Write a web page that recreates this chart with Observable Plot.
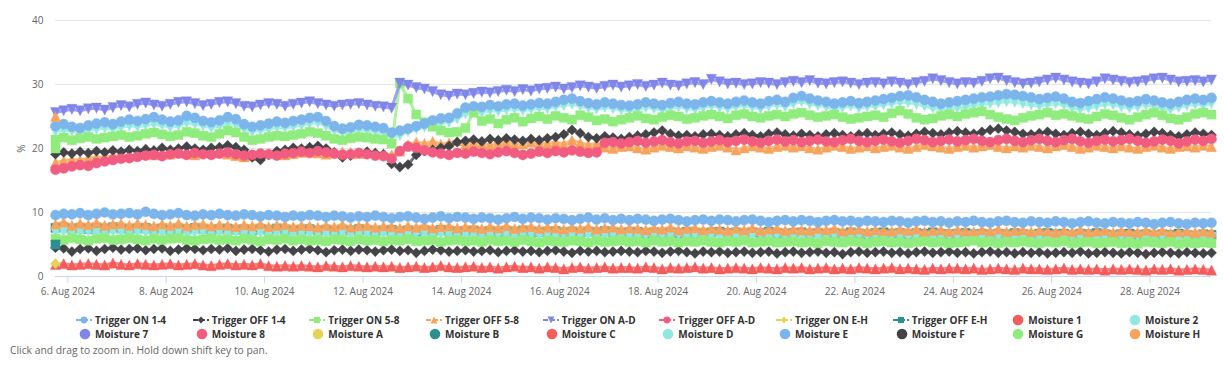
<!DOCTYPE html>
<html><head><meta charset="utf-8">
<script src="https://cdn.jsdelivr.net/npm/d3@7"></script>
<script src="https://cdn.jsdelivr.net/npm/@observablehq/plot@0.6"></script>
<style>
body{margin:0;background:#fff;font-family:"Open Sans",sans-serif;}
#wrap{position:relative;width:1224px;height:372px;overflow:hidden;}
#legend{position:absolute;left:0;top:300px;width:1224px;height:42px;}
.item{position:absolute;font-size:10px;font-weight:bold;color:#333333;line-height:12px;white-space:nowrap;}
.item svg{position:absolute;left:-20px;top:-1px;}
#caption{position:absolute;left:10px;top:344px;font-size:10.3px;color:#666666;line-height:13px;}
#chart svg{display:block;}
</style></head>
<body>
<div id="wrap">
  <div id="chart"></div>
  <div id="legend"></div>
  <div id="caption">Click and drag to zoom in. Hold down shift key to pan.</div>
</div>
<script>
// ---- data: 4-hourly readings starting 5 Aug 2024 18:00 ----
const startTime = Date.UTC(2024, 7, 5, 18);
const stepHours = 4;

const moisture1 = [1.9,2.0,1.8,1.9,2.0,1.9,1.8,2.1,1.9,1.8, 2.0,1.9,1.8,1.9,2.0,1.8,1.9,2.0,1.8,1.7, 1.9,2.0,1.8,1.9,1.8,2.0,1.7,1.6,1.7,1.6, 1.7,1.6,1.5,1.7,1.6,1.5,1.7,1.6,1.5,1.6, 1.5,1.6,1.4,1.5,1.6,1.4,1.5,1.7,1.5,1.4, 1.5,1.6,1.4,1.5,1.3,1.5,1.6,1.4,1.5,1.3, 1.5,1.4,1.2,1.4,1.5,1.3,1.4,1.5,1.3,1.4, 1.4,1.3,1.5,1.4,1.2,1.4,1.3,1.4,1.5,1.3, 1.4,1.2,1.3,1.4,1.3,1.2,1.4,1.3,1.2,1.4, 1.3,1.4,1.2,1.3,1.4,1.2,1.3,1.2,1.4,1.3, 1.2,1.3,1.4,1.2,1.3,1.2,1.1,1.3,1.2,1.3, 1.3,1.2,1.3,1.1,1.2,1.3,1.2,1.1,1.3,1.2, 1.2,1.1,1.2,1.3,1.1,1.2,1.1,1.2,1.0,1.2, 1.1,1.2,1.1,1.0,1.2,1.1,1.2,1.0,1.1,1.2, 1.1,1.0];
const moisture2 = [6.9,7.0,6.8,6.9,7.0,6.8,6.9,7.0,6.9,6.8, 6.9,6.8,6.9,6.7,6.8,6.9,6.7,6.8,6.9,6.7, 6.8,6.7,6.8,6.6,6.7,6.8,6.6,6.7,6.8,6.6, 6.7,6.6,6.7,6.5,6.6,6.7,6.5,6.6,6.7,6.5, 6.6,6.5,6.6,6.5,6.6,6.7,6.5,6.6,6.5,6.4, 6.5,6.6,6.5,6.4,6.5,6.6,6.4,6.5,6.6,6.4, 6.5,6.4,6.5,6.3,6.4,6.5,6.3,6.4,6.5,6.3, 6.4,6.3,6.4,6.5,6.3,6.4,6.5,6.3,6.4,6.3, 6.4,6.3,6.4,6.2,6.3,6.4,6.5,6.3,6.4,6.3, 6.3,6.4,6.3,6.2,6.3,6.4,6.2,6.3,6.4,6.2, 6.3,6.2,6.3,6.4,6.2,6.3,6.2,6.1,6.3,6.2, 6.3,6.2,6.3,6.1,6.2,6.3,6.2,6.1,6.2,6.3, 6.2,6.1,6.2,6.3,6.1,6.2,6.1,6.0,6.2,6.1, 6.2,6.1,6.2,6.0,6.1,6.2,6.1,6.0,6.1,6.2, 6.1,6.1];
const moisture3 = [9.6,9.8,9.7,9.9,9.6,9.8,10.0,9.7,9.8,9.9, 9.7,10.1,9.8,9.6,9.7,9.9,9.6,9.5,9.7,9.6, 9.8,9.6,9.5,9.7,9.6,9.4,9.6,9.5,9.3,9.5, 9.4,9.6,9.5,9.3,9.5,9.4,9.2,9.4,9.3,9.5, 9.3,9.1,9.3,9.4,9.2,9.0,9.2,9.4,9.1,9.3, 9.2,9.0,9.2,9.1,8.9,9.1,9.3,9.0,9.2,9.1, 8.9,9.1,9.0,8.8,9.0,9.2,8.9,9.1,8.8,9.0, 8.8,9.0,8.9,8.7,8.9,9.0,8.8,8.6,8.8,8.9, 8.7,8.9,8.8,8.6,8.8,8.9,8.7,8.5,8.7,8.8, 8.6,8.8,8.7,8.5,8.7,8.8,8.6,8.7,8.5,8.7, 8.6,8.5,8.7,8.6,8.4,8.6,8.7,8.5,8.6,8.4, 8.6,8.5,8.7,8.5,8.4,8.6,8.7,8.5,8.4,8.6, 8.5,8.4,8.6,8.5,8.3,8.5,8.6,8.4,8.3,8.5, 8.4,8.3,8.5,8.4,8.2,8.4,8.5,8.3,8.2,8.4, 8.3,8.4];
const moisture4 = [4.5,4.4,3.9,4.3,4.4,4.0,4.3,4.5,4.2,4.3, 4.4,4.1,4.3,4.4,4.0,4.2,4.4,4.3,4.1,4.3, 4.2,4.4,4.0,4.2,4.3,4.1,3.9,4.2,4.3,4.0, 4.2,4.3,4.1,3.8,4.1,4.2,4.0,4.2,4.1,3.9, 4.1,4.2,4.0,4.1,3.7,4.0,4.2,4.1,3.9,4.0, 4.1,3.9,4.0,4.1,3.8,4.0,4.1,3.9,4.0,3.8, 4.0,4.1,3.9,3.7,4.0,3.9,4.0,3.8,3.9,4.0, 3.9,3.8,4.0,3.9,3.7,3.9,4.0,3.8,3.6,3.9, 3.8,3.9,3.7,3.8,3.9,3.7,3.8,3.9,3.6,3.8, 3.9,3.7,3.8,3.9,3.7,3.8,3.5,3.8,3.9,3.7, 3.8,3.9,3.7,3.8,3.6,3.8,3.9,3.7,3.8,3.9, 3.7,3.8,3.6,3.8,3.9,3.7,3.8,3.6,3.8,3.7, 3.8,3.6,3.7,3.8,3.7,3.9,3.6,3.7,3.8,3.7, 3.6,3.8,3.7,3.5,3.7,3.8,3.7,3.6,3.8,3.7, 3.6,3.7];
const moisture5 = [5.9,5.7,6.0,5.8,5.6,5.9,6.0,5.7,5.8,6.0, 5.8,5.6,5.9,5.7,5.9,6.0,5.7,5.6,5.8,5.9, 5.7,5.8,5.6,5.9,5.7,5.5,5.8,5.7,5.9,5.6, 5.8,5.6,5.7,5.5,5.8,5.7,5.5,5.8,5.6,5.7, 5.5,5.7,5.6,5.8,5.5,5.6,5.7,5.4,5.6,5.7, 5.5,5.6,5.4,5.7,5.5,5.6,5.4,5.7,5.5,5.3, 5.6,5.5,5.4,5.6,5.5,5.3,5.6,5.4,5.5,5.6, 5.4,5.5,5.3,5.6,5.4,5.5,5.3,5.5,5.4,5.6, 5.4,5.3,5.5,5.4,5.6,5.3,5.4,5.5,5.3,5.4, 5.5,5.3,5.4,5.2,5.5,5.4,5.3,5.5,5.4,5.2, 5.4,5.5,5.3,5.4,5.2,5.4,5.5,5.3,5.4,5.2, 5.3,5.4,5.6,5.3,5.4,5.2,5.4,5.3,5.5,5.3, 5.2,5.4,5.3,5.5,5.2,5.3,5.4,5.2,5.3,5.4, 5.2,5.3,5.1,5.4,5.3,5.2,5.4,5.1,5.3,5.2, 5.3,5.2];
const moisture6 = [8.2,8.5,8.0,8.3,8.1,8.4,8.0,8.2,8.3,8.0, 8.3,8.1,7.9,8.2,8.0,8.3,7.9,8.1,8.2,7.9, 8.1,8.0,7.8,8.1,7.9,8.2,7.8,8.0,8.1,7.8, 8.0,7.9,7.7,8.0,7.8,8.1,7.7,7.9,8.0,7.7, 7.9,7.8,7.6,7.9,7.7,8.0,7.6,7.8,7.9,7.6, 7.8,7.7,7.5,7.8,7.6,7.9,7.5,7.7,7.8,7.5, 7.7,7.6,7.4,7.7,7.5,7.8,7.4,7.6,7.7,7.4, 7.6,7.5,7.3,7.6,7.4,7.7,7.3,7.5,7.6,7.3, 7.5,7.4,7.2,7.5,7.3,7.6,7.2,7.4,7.5,7.2, 7.4,7.3,7.2,7.5,7.3,7.5,7.1,7.3,7.4,7.1, 7.3,7.2,7.1,7.4,7.2,7.4,7.0,7.2,7.3,7.0, 7.3,7.1,7.0,7.3,7.1,7.4,7.0,7.2,7.3,7.0, 7.2,7.1,6.9,7.2,7.0,7.3,6.9,7.1,7.2,6.9, 7.1,7.0,6.9,7.2,7.0,7.2,6.8,7.0,7.1,6.9, 7.1,6.9];
const moisture7 = [25.6,25.9,26.1,25.9,26.2,26.3,26.0,26.4,26.7,26.5, 26.9,27.1,26.8,26.6,26.9,27.2,27.3,27.0,26.7,26.9, 27.2,27.3,27.0,26.6,26.5,26.8,27.0,26.9,26.6,26.9, 27.1,27.3,27.0,26.8,26.6,26.8,26.9,27.0,26.8,26.6, 26.5,26.3,30.2,29.9,29.5,29.3,28.9,28.4,28.2,28.5, 28.4,28.6,28.8,28.7,28.9,29.1,28.9,29.2,29.0,29.3, 29.4,29.6,29.3,29.5,29.8,29.6,29.4,29.7,29.9,29.6, 29.8,30.0,29.7,29.9,30.2,29.9,29.8,30.1,30.3,30.0, 30.8,30.4,30.1,30.2,30.0,30.1,30.3,30.2,30.0,30.3, 30.5,30.3,30.6,30.2,30.1,30.3,30.4,30.2,30.0,30.2, 30.3,30.1,30.4,30.2,30.0,30.3,30.5,30.9,30.6,30.3, 30.1,30.3,30.2,30.5,30.9,31.0,30.6,30.3,30.1,30.2, 30.4,30.7,31.0,30.7,30.4,30.2,30.1,30.4,30.9,30.7, 30.5,30.3,30.4,30.6,30.9,31.0,30.7,30.4,30.5,30.6, 30.4,30.7];
const moisture8 = [16.7,16.9,17.2,17.4,17.3,17.7,18.0,18.2,18.4,18.5, 18.7,18.9,19.0,18.8,19.1,19.2,19.0,19.3,19.1,19.0, 19.2,19.4,19.1,18.9,19.0,19.2,19.1,18.9,19.2,19.3, 19.5,19.3,19.6,19.4,19.2,19.0,19.1,19.3,19.1,18.9, 18.8,18.4,19.6,20.3,20.1,19.7,19.4,19.2,19.0,19.3, 19.2,19.5,19.3,19.1,19.4,19.6,19.3,19.0,19.2,19.5, 19.3,19.6,19.4,19.7,19.5,19.3,19.4,20.9,21.0,20.8, 21.0,21.2,20.9,21.1,21.3,21.0,20.8,21.1,21.2,20.9, 21.1,21.3,21.0,21.2,21.4,21.1,20.9,21.2,21.4,21.1, 21.3,21.0,21.2,21.4,21.1,21.0,21.3,21.5,21.2,21.0, 21.2,21.4,21.1,20.9,21.2,21.5,21.3,21.0,21.2,21.4, 21.1,21.3,21.5,21.2,21.0,21.3,21.5,21.2,21.0,21.3, 21.5,21.2,21.0,21.3,21.5,21.1,20.9,21.2,21.4,21.1, 21.3,21.5,21.2,20.9,21.1,21.4,21.2,20.8,21.1,21.4, 21.2,21.5];
const moistureB = [7.6,7.7,7.5,7.6,7.4,7.6,7.5,7.7,7.5,7.4, 7.5,7.6,7.4,7.5,7.3,7.5,7.4,7.6,7.4,7.3, 7.4,7.5,7.3,7.4,7.2,7.4,7.3,7.5,7.3,7.2, 7.3,7.4,7.2,7.3,7.1,7.3,7.2,7.4,7.2,7.1, 7.2,7.3,7.1,7.2,7.0,7.2,7.1,7.3,7.1,7.0, 7.1,7.2,7.0,7.1,6.9,7.1,7.0,7.2,7.0,6.9, 7.0,7.1,6.9,7.0,6.8,7.0,6.9,7.1,6.9,6.8, 6.9,7.0,6.8,6.9,6.7,6.9,6.8,7.0,6.8,6.7, 6.9,7.0,6.8,6.9,6.7,6.9,6.8,7.0,6.8,6.7, 6.8,6.9,6.7,6.8,6.6,6.8,6.7,6.9,6.7,6.6, 6.8,6.9,6.7,6.8,6.6,6.8,6.7,6.9,6.7,6.6, 6.7,6.8,6.6,6.7,6.5,6.7,6.6,6.8,6.6,6.5, 6.7,6.8,6.6,6.7,6.5,6.7,6.6,6.8,6.6,6.5, 6.6,6.7,6.5,6.6,6.4,6.6,6.5,6.7,6.5,6.4, 6.6,6.5];
const moistureD = [22.6,22.9,22.7,22.5,22.8,23.0,23.2,23.0,23.3,23.5, 23.4,23.6,23.8,23.6,23.3,23.5,24.0,23.8,23.5,23.2, 23.5,23.9,23.7,23.0,22.6,22.8,23.0,23.3,23.2,23.4, 23.6,23.9,24.0,23.5,22.8,22.4,22.6,22.9,22.8,22.6, 22.4,21.8,22.0,22.6,23.0,23.3,23.6,23.9,24.1,24.6, 25.4,25.7,25.6,25.9,25.8,26.0,26.2,25.9,26.1,26.3, 26.2,26.5,26.7,26.9,26.6,26.3,26.1,26.4,26.2,26.0, 25.9,26.1,26.4,26.2,26.0,26.3,26.5,26.2,26.1,26.4, 26.6,26.4,26.2,26.5,26.7,26.4,26.2,26.6,26.8,26.5, 27.0,27.3,26.9,26.7,26.5,26.2,26.4,26.6,26.3,26.5, 26.6,26.8,27.0,27.2,27.2,26.9,26.6,26.3,26.1,26.2, 26.3,26.5,26.7,26.9,27.0,27.1,27.3,27.2,27.0,26.8, 26.6,26.8,27.0,26.8,26.3,26.1,26.3,26.6,26.9,26.8, 26.5,26.3,26.5,26.8,26.6,26.3,26.1,26.4,26.7,26.9, 26.7,27.0];
const moistureE = [23.5,23.8,23.4,23.2,23.6,23.9,24.1,23.8,24.2,24.5, 24.3,24.6,24.9,24.5,24.2,24.4,25.1,24.8,24.3,24.1, 24.4,24.9,24.6,23.8,23.4,23.6,23.9,24.2,24.0,24.3, 24.5,24.8,24.9,24.3,23.5,23.1,23.3,23.7,23.6,23.4, 23.2,22.5,22.8,23.1,23.5,23.9,24.4,24.7,24.8,25.5, 26.4,26.6,26.5,26.8,26.6,26.9,27.0,26.7,26.9,27.1, 27.0,27.3,27.6,27.8,27.4,27.1,26.9,27.2,27.0,26.8, 26.7,26.9,27.2,27.0,26.8,27.1,27.3,27.0,26.9,27.2, 27.4,27.2,27.0,27.3,27.5,27.2,27.0,27.4,27.6,27.3, 27.9,28.2,27.8,27.5,27.3,27.0,27.2,27.4,27.1,27.3, 27.5,27.7,27.9,28.2,28.3,28.0,27.6,27.3,27.0,27.2, 27.4,27.6,27.8,28.0,28.1,28.3,28.5,28.4,28.2,28.0, 27.7,27.9,28.1,27.8,27.3,27.1,27.4,27.7,28.0,27.8, 27.5,27.2,27.4,27.7,27.5,27.2,27.0,27.3,27.6,27.8, 27.6,27.9];
const moistureF = [19.1,19.4,19.2,19.5,19.3,19.6,19.4,19.7,19.5,19.8, 19.6,19.9,19.7,20.1,19.8,20.0,20.3,20.0,19.8,20.1, 20.2,20.5,20.2,19.8,18.6,18.2,19.0,19.6,19.8,20.1, 20.0,20.2,20.4,20.0,19.4,18.6,18.9,19.3,19.5,19.3, 19.1,17.6,17.1,17.5,19.0,19.6,19.8,20.1,20.4,21.0, 21.2,21.4,21.1,21.5,21.3,21.6,21.4,21.2,21.5,21.3, 21.6,21.8,22.2,22.9,22.4,21.8,21.6,21.9,21.7,21.5, 21.8,22.0,22.2,22.5,22.8,22.3,22.0,22.1,21.9,22.2, 22.3,22.1,21.9,22.2,22.4,22.1,21.9,22.3,22.5,22.2, 22.0,22.3,22.1,21.9,22.2,22.4,22.1,21.9,22.2,22.4, 22.1,22.3,22.5,22.2,22.0,22.3,22.6,22.4,22.2,22.5, 22.7,22.5,22.3,22.6,22.9,23.1,22.8,22.6,22.3,22.2, 22.4,22.6,22.3,22.1,22.4,22.6,22.3,22.1,22.4,22.7, 22.5,22.2,22.0,22.3,22.6,22.4,22.1,21.9,22.2,22.5, 22.3,22.1];
const moistureG = [21.4,21.7,21.3,21.6,21.8,21.5,21.7,21.9,22.1,21.8, 22.0,22.3,22.5,22.2,21.9,22.1,22.6,22.4,22.0,21.8, 22.3,22.8,22.5,21.8,21.3,21.5,21.8,22.0,21.9,22.1, 22.3,22.6,22.4,22.0,21.5,21.3,21.6,21.8,21.7,21.5, 21.4,20.8,30.2,27.8,25.3,24.1,23.4,22.8,22.5,22.6, 23.2,25.6,24.3,24.6,23.9,24.5,24.8,24.2,24.7,25.0, 24.6,25.1,24.8,24.5,25.2,24.9,24.4,24.6,24.2,24.5, 24.8,25.1,24.7,24.5,24.9,25.2,25.0,24.6,24.8,25.1, 25.3,25.0,24.7,25.2,25.4,25.0,24.8,25.1,25.3,25.0, 25.4,25.6,25.2,24.9,25.1,25.3,24.9,24.6,24.8,25.0, 25.2,24.9,25.5,25.9,25.4,24.8,24.5,24.7,25.1,25.3, 25.0,25.4,25.6,25.8,25.3,24.9,24.6,24.4,24.8,25.1, 25.3,25.6,25.2,25.4,25.1,24.8,24.6,25.0,25.4,25.2, 24.8,24.5,24.9,25.3,25.6,25.2,24.7,24.5,24.9,25.4, 25.6,25.3];
const moistureH = [17.8,18.1,18.3,18.2,18.5,18.7,18.6,18.9,19.0,18.8, 19.0,19.2,19.0,19.3,19.1,19.4,19.2,19.0,19.3,19.5, 19.3,19.1,18.9,18.7,18.9,19.1,19.3,19.2,19.0,19.2, 19.4,19.6,19.3,19.1,19.3,19.5,19.4,19.2,19.4,19.3, 19.2,19.0,19.6,20.6,21.0,20.8,21.1,20.7,20.9,21.2, 20.7,21.0,20.8,20.6,20.9,21.1,20.8,20.7,21.0,20.9, 20.8,21.0,20.7,21.3,20.9,20.6,20.8,20.2,20.0,20.3, 20.4,20.1,19.9,20.2,20.5,20.3,20.1,20.4,20.2,20.0, 20.3,20.5,20.2,19.8,20.1,20.4,20.2,20.0,20.3,20.5, 20.2,20.4,20.1,19.9,20.2,20.5,20.3,20.0,20.2,20.4, 20.1,20.3,20.5,20.2,20.0,20.3,20.6,20.4,20.2,20.0, 20.3,20.5,20.2,20.4,20.6,20.3,20.1,20.4,20.2,20.5, 20.3,20.1,20.4,20.6,20.3,20.0,20.2,20.5,20.3,20.1, 20.4,20.2,20.0,20.3,20.5,20.2,20.0,20.3,20.4,20.2, 20.5,20.3];
// trigger levels (single readings at the first timestamp)
const triggerOn58 = [20];
const triggerOff58 = [25];
const triggerOnEH = [2];
const triggerOffEH = [5];

const xTicks = ["2024-08-06","2024-08-08","2024-08-10","2024-08-12","2024-08-14","2024-08-16","2024-08-18","2024-08-20","2024-08-22","2024-08-24","2024-08-26","2024-08-28"];
const yTicks = [0, 10, 20, 30, 40];

const legendRow1 = ["Trigger ON 1-4","Trigger OFF 1-4","Trigger ON 5-8","Trigger OFF 5-8","Trigger ON A-D","Trigger OFF A-D","Trigger ON E-H","Trigger OFF E-H","Moisture 1","Moisture 2"];
const legendRow2 = ["Moisture 7","Moisture 8","Moisture A","Moisture B","Moisture C","Moisture D","Moisture E","Moisture F","Moisture G","Moisture H"];
const legendColors1 = ["#7cb5ec","#434348","#90ed7d","#f7a35c","#8085e9","#f15c80","#e4d354","#2b908f","#f45b5b","#91e8e1"];
const legendColors2 = ["#8085e9","#f15c80","#e4d354","#2b908f","#f45b5b","#91e8e1","#7cb5ec","#434348","#90ed7d","#f7a35c"];
const legendShapes1 = ["circle","diamond","square","triangle","triangleDown","circle","diamond","square",null,null];

// ---- symbols (Highcharts-like) ----
const rOf = size => Math.sqrt(size / Math.PI);
const sym = {
  circle: {draw(c, s){const r=rOf(s); c.moveTo(r,0); c.arc(0,0,r,0,2*Math.PI); c.closePath();}},
  square: {draw(c, s){const r=rOf(s)*0.9; c.moveTo(-r,-r); c.lineTo(r,-r); c.lineTo(r,r); c.lineTo(-r,r); c.closePath();}},
  diamond: {draw(c, s){const r=rOf(s); c.moveTo(0,-r); c.lineTo(r,0); c.lineTo(0,r); c.lineTo(-r,0); c.closePath();}},
  triangle: {draw(c, s){const r=rOf(s); c.moveTo(0,-r); c.lineTo(r,r); c.lineTo(-r,r); c.closePath();}},
  triangleDown: {draw(c, s){const r=rOf(s); c.moveTo(-r,-r); c.lineTo(r,-r); c.lineTo(0,r); c.closePath();}}
};

const toRows = vals => vals.map((v, i) => ({t: new Date(startTime + i * stepHours * 3600e3), v}));
const endTime = new Date(startTime + (moisture7.length - 1) * stepHours * 3600e3);

// draw order: bottom first
const series = [
  {values: moistureB, color: "#2b908f", shape: "square"},
  {values: moisture2, color: "#91e8e1", shape: "triangleDown"},
  {values: moisture6, color: "#f7a35c", shape: "triangle"},
  {values: moisture4, color: "#434348", shape: "diamond"},
  {values: moisture5, color: "#90ed7d", shape: "square"},
  {values: moisture3, color: "#7cb5ec", shape: "circle"},
  {values: moisture1, color: "#f45b5b", shape: "triangle"},
  {values: moistureD, color: "#91e8e1", shape: "triangleDown"},
  {values: moistureH, color: "#f7a35c", shape: "triangle"},
  {values: moistureF, color: "#434348", shape: "diamond"},
  {values: moisture8, color: "#f15c80", shape: "circle"},
  {values: moistureG, color: "#90ed7d", shape: "square"},
  {values: moistureE, color: "#7cb5ec", shape: "circle"},
  {values: moisture7, color: "#8085e9", shape: "triangleDown"},
  {values: triggerOn58, color: "#90ed7d", shape: "square"},
  {values: triggerOff58, color: "#f7a35c", shape: "triangle"},
  {values: triggerOffEH, color: "#2b908f", shape: "square"},
  {values: triggerOnEH, color: "#e4d354", shape: "diamond"}
];

const marks = [
  Plot.ruleY(yTicks.filter(d => d > 0), {stroke: "#e6e6e6", strokeWidth: 1}),
  Plot.ruleY([0], {stroke: "#ccd6eb", strokeWidth: 1})
];
for (const s of series) {
  const rows = toRows(s.values);
  if (rows.length > 1) marks.push(Plot.line(rows, {x: "t", y: "v", stroke: s.color, strokeWidth: 3, strokeOpacity: 0.75}));
  marks.push(Plot.dot(rows, {x: "t", y: "v", symbol: sym[s.shape], r: 5.1, fill: s.color, stroke: s.color, strokeOpacity: 0.35, strokeWidth: 1}));
}
marks.push(Plot.axisY({ticks: yTicks, tickSize: 0, tickPadding: 12, fontSize: 10, fill: "#666666", label: "%", labelAnchor: "center", labelArrow: "none", labelOffset: 38}));
marks.push(Plot.axisX({ticks: xTicks.map(d => new Date(d + "T00:00:00Z")), tickSize: 7, tickPadding: 4, fontSize: 10, stroke: "#ccd6eb", fill: "#666666", label: null,
  tickFormat: d => `${d.getUTCDate()}. Aug 2024`}));

const chart = Plot.plot({
  width: 1224, height: 300,
  marginLeft: 55, marginRight: 13, marginTop: 20, marginBottom: 24,
  style: {fontFamily: '"Open Sans", sans-serif', color: "#666666", background: "#ffffff"},
  x: {type: "utc", domain: [new Date(startTime), endTime]},
  y: {domain: [0, 40]},
  marks
});
document.getElementById("chart").appendChild(chart);

// ---- legend ----
const legend = document.getElementById("legend");
const colStep = 116.67, textX0 = 95;
function shapePath(shape, r, cx, cy) {
  const p = d3.path();
  sym[shape].draw({moveTo:(x,y)=>p.moveTo(x+cx,y+cy), lineTo:(x,y)=>p.lineTo(x+cx,y+cy), arc:(x,y,rr,a0,a1)=>p.arc(x+cx,y+cy,rr,a0,a1), closePath:()=>p.closePath()}, Math.PI*r*r);
  return p.toString();
}
function addItem(label, color, shape, col, rowTop) {
  const div = document.createElement("div");
  div.className = "item";
  div.style.left = (textX0 + col * colStep) + "px";
  div.style.top = rowTop + "px";
  let svg;
  if (shape) {
    svg = `<svg width="18" height="14"><line x1="1" y1="7" x2="17" y2="7" stroke="${color}" stroke-width="2" stroke-dasharray="5,2"/><path d="${shapePath(shape, 3.4, 9, 7)}" fill="${color}"/></svg>`;
  } else {
    svg = `<svg width="18" height="14"><circle cx="10" cy="7" r="5.3" fill="${color}"/></svg>`;
  }
  div.innerHTML = svg + `<span>${label}</span>`;
  legend.appendChild(div);
}
legendRow1.forEach((name, i) => addItem(name, legendColors1[i], legendShapes1[i], i, 14));
legendRow2.forEach((name, i) => addItem(name, legendColors2[i], null, i, 27.5));
</script>
</body></html>
